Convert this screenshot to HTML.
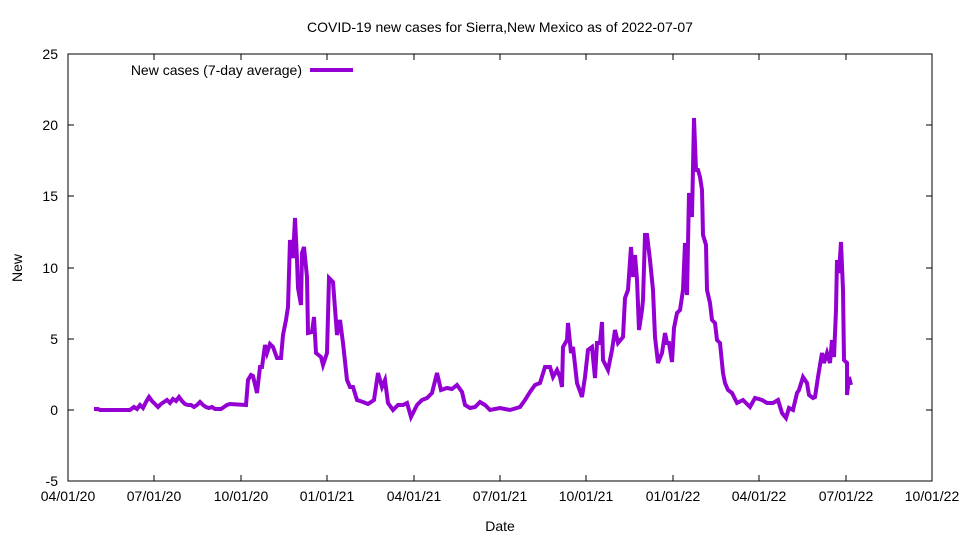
<!DOCTYPE html>
<html><head><meta charset="utf-8"><style>body{margin:0;background:#fff}svg{display:block;font-family:"Liberation Sans",sans-serif}</style></head><body>
<svg width="960" height="540" viewBox="0 0 960 540">
<rect x="68" y="54" width="864" height="427" fill="none" stroke="#000" stroke-width="1"/>
<g stroke="#000" stroke-width="1">
<line x1="68" y1="481" x2="74" y2="481"/><line x1="68" y1="410" x2="74" y2="410"/><line x1="68" y1="339" x2="74" y2="339"/><line x1="68" y1="268" x2="74" y2="268"/><line x1="68" y1="196" x2="74" y2="196"/><line x1="68" y1="125" x2="74" y2="125"/><line x1="68" y1="54" x2="74" y2="54"/>
<line x1="932" y1="410" x2="926" y2="410"/><line x1="932" y1="339" x2="926" y2="339"/><line x1="932" y1="268" x2="926" y2="268"/><line x1="932" y1="196" x2="926" y2="196"/><line x1="932" y1="125" x2="926" y2="125"/>
<line x1="154" y1="481" x2="154" y2="475"/><line x1="241" y1="481" x2="241" y2="475"/><line x1="327" y1="481" x2="327" y2="475"/><line x1="414" y1="481" x2="414" y2="475"/><line x1="500" y1="481" x2="500" y2="475"/><line x1="586" y1="481" x2="586" y2="475"/><line x1="673" y1="481" x2="673" y2="475"/><line x1="759" y1="481" x2="759" y2="475"/><line x1="846" y1="481" x2="846" y2="475"/>
<line x1="154" y1="54" x2="154" y2="60"/><line x1="241" y1="54" x2="241" y2="60"/><line x1="327" y1="54" x2="327" y2="60"/><line x1="414" y1="54" x2="414" y2="60"/><line x1="500" y1="54" x2="500" y2="60"/><line x1="586" y1="54" x2="586" y2="60"/><line x1="673" y1="54" x2="673" y2="60"/><line x1="759" y1="54" x2="759" y2="60"/><line x1="846" y1="54" x2="846" y2="60"/>
</g>
<g font-size="14" text-anchor="end">
<text x="58" y="486">-5</text><text x="58" y="415">0</text><text x="58" y="344">5</text><text x="58" y="273">10</text><text x="58" y="201">15</text><text x="58" y="130">20</text><text x="58" y="59">25</text>
</g>
<g font-size="14" text-anchor="middle">
<text x="68" y="501">04/01/20</text><text x="154" y="501">07/01/20</text><text x="241" y="501">10/01/20</text><text x="327" y="501">01/01/21</text><text x="414" y="501">04/01/21</text><text x="500" y="501">07/01/21</text><text x="586" y="501">10/01/21</text><text x="673" y="501">01/01/22</text><text x="759" y="501">04/01/22</text><text x="846" y="501">07/01/22</text><text x="932" y="501">10/01/22</text>
<text x="500" y="531">Date</text>
<text x="500" y="32">COVID-19 new cases for Sierra,New Mexico as of 2022-07-07</text>
<text x="22" y="268" transform="rotate(-90 22 268)">New</text>
</g>
<text x="302" y="75" font-size="14" text-anchor="end">New cases (7-day average)</text>
<line x1="310" y1="70" x2="353" y2="70" stroke="#9400d3" stroke-width="4"/>
<polyline fill="none" stroke="#9400d3" stroke-width="4" stroke-linejoin="miter" points="94,409 98,409 100,410 130,410 134,407 137,409 140,405 143,408 146,402 149,397 152,401 155,404 158,407 161,404 164,402 167,400 170,403 173,399 176,401 179,397 182,401 185,404 188,405 191,405 194,407 197,405 200,402 203,405 206,407 209,408 212,407 215,409 218,409 221,409 224,407 227,405 230,404 246,405 248,380 251,375 253,376 257,393 260,367 262,367 265,345 267,353 270,344 273,347 277,358 281,358 283,335 286,320 288,307 290,240 293,258 295,218 297,260 298,288 301,305 302,253 304,247 307,277 308,333 312,332 314,317 316,353 321,357 323,365 327,353 329,278 333,282 337,335 340,320 343,343 347,380 350,387 353,387 357,400 363,402 368,404 374,400 378,373 382,387 385,380 388,403 393,410 398,405 403,405 407,403 411,417 417,405 422,400 427,398 432,393 437,373 441,390 447,388 452,389 457,385 462,392 465,405 470,408 475,407 480,402 485,405 490,410 500,408 510,410 520,407 525,400 530,392 535,385 540,383 545,367 550,367 553,377 557,370 560,377 562,387 563,347 567,340 568,323 571,353 573,347 577,383 582,397 585,377 588,350 592,347 595,378 597,343 600,343 602,322 603,360 608,370 612,350 615,330 618,343 623,337 625,298 628,290 631,247 633,277 635,255 637,280 639,330 642,310 643,300 645,235 647,235 650,260 653,290 655,337 658,363 662,353 665,333 667,343 669,343 672,362 674,328 677,313 680,310 683,290 685,243 687,295 689,193 692,217 694,118 696,170 698,170 700,177 702,190 703,235 706,245 707,290 710,303 712,320 715,323 717,340 720,343 723,373 725,383 728,390 732,393 737,403 743,400 750,407 755,398 762,400 767,403 773,403 778,400 782,413 786,418 789,408 793,410 797,393 799,390 803,377 807,383 809,395 813,398 815,397 818,377 822,353 824,363 827,353 830,363 832,340 834,357 836,310 837,260 839,273 841,242 843,290 844,360 847,363 847,395 849,377 851,385"/>
</svg>
</body></html>
